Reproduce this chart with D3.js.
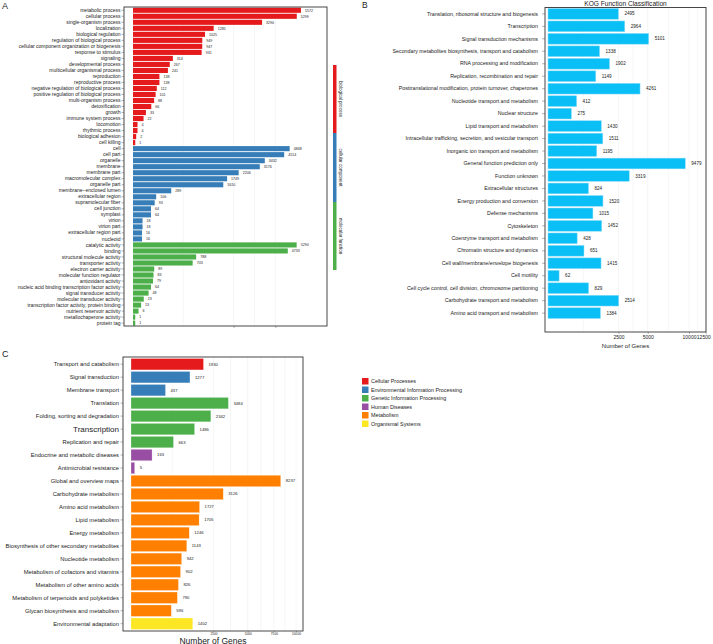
<!DOCTYPE html>
<html>
<head>
<meta charset="utf-8">
<script src="https://cdn.jsdelivr.net/npm/d3@7"></script>
<style>
  body { margin: 0; background: #fff; }
  text { font-family: "Liberation Sans", Arial, Helvetica, sans-serif; fill: #222; }
</style>
</head>
<body>
<svg id="fig" width="713" height="644"></svg>
<script>
// ---- data (GO) ----
var goTerms = ["metabolic process","cellular process","single-organism process","localization",
  "biological regulation","regulation of biological process","cellular component organization or biogenesis",
  "response to stimulus","signaling","developmental process","multicellular organismal process","reproduction",
  "reproductive process","negative regulation of biological process","positive regulation of biological process",
  "multi-organism process","detoxification","growth","immune system process","locomotion","rhythmic process",
  "biological adhesion","cell killing",
  "cell","cell part","organelle","membrane","membrane part","macromolecular complex","organelle part",
  "membrane\u2212enclosed lumen","extracellular region","supramolecular fiber","cell junction","symplast","virion",
  "virion part","extracellular region part","nucleoid",
  "catalytic activity","binding","structural molecule activity","transporter activity","electron carrier activity",
  "molecular function regulator","antioxidant activity","nucleic acid binding transcription factor activity",
  "signal transducer activity","molecular transducer activity","transcription factor activity, protein binding",
  "nutrient reservoir activity","metallochaperone activity","protein tag"];
var goValues = [5572,5299,3290,1285,1025,949,947,931,314,267,241,138,138,112,101,88,66,33,22,4,4,2,1,
  4848,4514,3432,3176,2206,1749,1610,289,106,93,64,64,18,18,16,16,
  5290,4733,788,703,89,83,79,64,48,23,13,6,1,1];
var goGroups = ["biological process","cellular component","molecular function"];
var goGroupSize = [23,16,14];
var goTicks = [2000,4000];

// ---- data (KOG) ----
var kogTerms = ["Translation, ribosomal structure and biogenesis","Transcription","Signal transduction mechanisms",
  "Secondary metabolites biosynthesis, transport and catabolism","RNA processing and modification",
  "Replication, recombination and repair","Posttranslational modification, protein turnover, chaperones",
  "Nucleotide transport and metabolism","Nuclear structure","Lipid transport and metabolism",
  "Intracellular trafficking, secretion, and vesicular transport","Inorganic ion transport and metabolism",
  "General function prediction only","Function unknown","Extracellular structures",
  "Energy production and conversion","Defense mechanisms","Cytoskeleton","Coenzyme transport and metabolism",
  "Chromatin structure and dynamics","Cell wall/membrane/envelope biogenesis","Cell motility",
  "Cell cycle control, cell division, chromosome partitioning","Carbohydrate transport and metabolism",
  "Amino acid transport and metabolism"];
var kogValues = [2495,2964,5101,1338,1902,1149,4261,412,275,1430,1511,1195,9479,3319,824,1520,1015,1452,
  428,651,1415,62,829,2514,1384];
var kogTicks = [2500,5000,10000,12500];

// ---- data (KEGG) ----
var keggTerms = ["Transport and catabolism","Signal transduction","Membrane transport","Translation",
  "Folding, sorting and degradation","Transcription","Replication and repair","Endocrine and metabolic diseases",
  "Antimicrobial resistance","Global and overview maps","Carbohydrate metabolism","Amino acid metabolism",
  "Lipid metabolism","Energy metabolism","Biosynthesis of other secondary metabolites","Nucleotide metabolism",
  "Metabolism of cofactors and vitamins","Metabolism of other amino acids","Metabolism of terpenoids and polyketides",
  "Glycan biosynthesis and metabolism","Environmental adaptation"];
var keggValues = [1930,1277,437,3484,2342,1486,663,163,5,8237,3126,1727,1705,1246,1143,942,902,826,790,596,1402];
var keggClass = [0,1,1,2,2,2,2,3,3,4,4,4,4,4,4,4,4,4,4,4,5];
var keggClasses = ["Cellular Processes","Environmental Information Processing","Genetic Information Processing",
  "Human Diseases","Metabolism","Organismal Systems"];
var keggTicks = [2500,5000,7500,10000];

var classColors = ["#e41a1c","#377eb8","#4daf4a","#984ea3","#ff7f00","#fde725"];
var kogColor = "#0abff5";
var fmt = d3.format("d");

var svg = d3.select("#fig");

function gridlines(g, x, ticks, y0, y1) {
  // major + minor (midpoint in sqrt space) lines
  var all = [0].concat(ticks);
  var minors = [];
  for (var i = 1; i < all.length; i++) {
    var m = (Math.sqrt(all[i-1]) + Math.sqrt(all[i])) / 2;
    minors.push(m * m);
  }
  g.selectAll(null).data(minors.concat(ticks)).enter().append("line")
    .attr("x1", function(d){ return x(d); }).attr("x2", function(d){ return x(d); })
    .attr("y1", y0).attr("y2", y1)
    .attr("stroke", "#ececec").attr("stroke-width", 0.5);
}

// ================= Panel A (GO) =================
(function(){
  var g = svg.append("g");
  var left = 124, right = 327, top = 7, bottom = 326;
  var x = d3.scaleSqrt().domain([0, 6000]).range([133, 133 + 2.25 * Math.sqrt(6000)]);
  var y = d3.scaleBand().domain(goTerms).range([7.7, 7.7 + 6 * goTerms.length]).paddingInner(0.15);
  var grp = [];
  goGroupSize.forEach(function(n, gi){ for (var k = 0; k < n; k++) grp.push(gi); });

  gridlines(g, x, goTicks, top, bottom);

  g.selectAll(".bar").data(goTerms).enter().append("rect")
    .attr("x", x(0)).attr("y", function(d){ return y(d); })
    .attr("width", function(d, i){ return x(goValues[i]) - x(0); })
    .attr("height", y.bandwidth())
    .attr("fill", function(d, i){ return classColors[grp[i]]; });

  g.selectAll(".val").data(goTerms).enter().append("text")
    .attr("x", function(d, i){ return x(goValues[i]) + 4; })
    .attr("y", function(d){ return y(d) + y.bandwidth() / 2; })
    .attr("dy", "0.35em").attr("font-size", 3.6)
    .text(function(d, i){ return goValues[i]; });

  var ax = g.append("g").attr("transform", "translate(" + left + ",0)")
    .call(d3.axisLeft(y).tickSize(2.5).tickPadding(1));
  ax.select(".domain").remove();
  ax.selectAll("text").attr("font-size", 5).attr("fill", "#222").style("font-family", "Liberation Sans, Arial");
  ax.selectAll("line").attr("stroke", "#444").attr("stroke-width", 0.4);

  var bx = g.append("g").attr("transform", "translate(0," + bottom + ")")
    .call(d3.axisBottom(x).tickValues(goTicks).tickSize(2).tickFormat(""));
  bx.select(".domain").remove();
  bx.selectAll("line").attr("stroke", "#444").attr("stroke-width", 0.4);

  g.append("rect").attr("x", left).attr("y", top).attr("width", right - left).attr("height", bottom - top)
    .attr("fill", "none").attr("stroke", "#333").attr("stroke-width", 0.9);

  // group strip
  var strip = [[65,133],[133,202],[202,270]];
  strip.forEach(function(s, i){
    g.append("rect").attr("x", 333).attr("y", s[0]).attr("width", 3.5).attr("height", s[1] - s[0])
      .attr("fill", classColors[i]);
    g.append("text").attr("transform", "translate(339," + ((s[0] + s[1]) / 2) + ") rotate(90)")
      .attr("text-anchor", "middle").attr("font-size", 4.5).text(goGroups[i]);
  });

  g.append("text").attr("x", 2).attr("y", 9).attr("font-size", 9).text("A");
})();

// ================= Panel B (KOG) =================
(function(){
  var g = svg.append("g");
  var left = 545, right = 706, top = 7.5, bottom = 332;
  var x = d3.scaleSqrt().domain([0, 12500]).range([548, 548 + 1.41 * Math.sqrt(12500)]);
  var y = d3.scaleBand().domain(kogTerms).range([8.5, 8.5 + 12.4 * kogTerms.length]).paddingInner(0.14);

  gridlines(g, x, kogTicks, top, bottom);

  g.selectAll(".bar").data(kogTerms).enter().append("rect")
    .attr("x", x(0)).attr("y", function(d){ return y(d); })
    .attr("width", function(d, i){ return x(kogValues[i]) - x(0); })
    .attr("height", y.bandwidth())
    .attr("fill", kogColor).attr("stroke", "#8fdcf7").attr("stroke-width", 0.5);

  g.selectAll(".val").data(kogTerms).enter().append("text")
    .attr("x", function(d, i){ return x(kogValues[i]) + 6; })
    .attr("y", function(d){ return y(d) + y.bandwidth() / 2; })
    .attr("dy", "0.35em").attr("font-size", 4.6)
    .text(function(d, i){ return kogValues[i]; });

  var ax = g.append("g").attr("transform", "translate(" + left + ",0)")
    .call(d3.axisLeft(y).tickSize(3).tickPadding(4));
  ax.select(".domain").remove();
  ax.selectAll("text").attr("font-size", 5.3).attr("fill", "#222").style("font-family", "Liberation Sans, Arial");
  ax.selectAll("line").attr("stroke", "#444").attr("stroke-width", 0.4);

  var bx = g.append("g").attr("transform", "translate(0," + bottom + ")")
    .call(d3.axisBottom(x).tickValues(kogTicks).tickSize(2).tickPadding(1).tickFormat(fmt));
  bx.select(".domain").remove();
  bx.selectAll("text").attr("font-size", 5).attr("fill", "#222").style("font-family", "Liberation Sans, Arial");
  // the last two labels sit side by side, as in the original
  bx.selectAll(".tick").filter(function(d){ return d === 12500; }).select("text")
    .attr("text-anchor", "start").attr("x", x(10000) - x(12500) + 7.3);
  bx.selectAll("line").attr("stroke", "#444").attr("stroke-width", 0.4);

  g.append("rect").attr("x", left).attr("y", top).attr("width", right - left).attr("height", bottom - top)
    .attr("fill", "none").attr("stroke", "#333").attr("stroke-width", 0.9);

  g.append("text").attr("x", (left + right) / 2).attr("y", 5.5).attr("text-anchor", "middle")
    .attr("font-size", 6.6).text("KOG Function Classification");
  g.append("text").attr("x", (left + right) / 2).attr("y", 348).attr("text-anchor", "middle")
    .attr("font-size", 6).text("Number of Genes");
  g.append("text").attr("x", 362).attr("y", 8).attr("font-size", 8.5).text("B");
})();

// ================= Panel C (KEGG) =================
(function(){
  var g = svg.append("g");
  var left = 123, right = 303, top = 357, bottom = 631;
  var x = d3.scaleSqrt().domain([0, 10000]).range([131, 131 + 1.65 * 100]);
  var y = d3.scaleBand().domain(keggTerms).range([358.5, 358.5 + 12.9 * keggTerms.length]).paddingInner(0.12);

  gridlines(g, x, keggTicks, top, bottom);

  g.selectAll(".bar").data(keggTerms).enter().append("rect")
    .attr("x", x(0)).attr("y", function(d){ return y(d); })
    .attr("width", function(d, i){ return x(keggValues[i]) - x(0); })
    .attr("height", y.bandwidth())
    .attr("fill", function(d, i){ return classColors[keggClass[i]]; })
    .attr("stroke", "#fff").attr("stroke-opacity", 0.5).attr("stroke-width", 0.5);

  g.selectAll(".val").data(keggTerms).enter().append("text")
    .attr("x", function(d, i){ return x(keggValues[i]) + 5; })
    .attr("y", function(d){ return y(d) + y.bandwidth() / 2; })
    .attr("dy", "0.35em").attr("font-size", 4.2)
    .text(function(d, i){ return keggValues[i]; });

  var ax = g.append("g").attr("transform", "translate(" + left + ",0)")
    .call(d3.axisLeft(y).tickSize(2.5).tickPadding(1.5));
  ax.select(".domain").remove();
  ax.selectAll("text").attr("font-size", function(d){ return d === "Transcription" ? 8 : 5.8; })
    .attr("fill", "#222").style("font-family", "Liberation Sans, Arial");
  ax.selectAll("line").attr("stroke", "#444").attr("stroke-width", 0.4);

  var bx = g.append("g").attr("transform", "translate(0," + bottom + ")")
    .call(d3.axisBottom(x).tickValues(keggTicks).tickSize(1.2).tickPadding(0.5).tickFormat(fmt));
  bx.select(".domain").remove();
  bx.selectAll("text").attr("font-size", 3.2).attr("fill", "#444").style("font-family", "Liberation Sans, Arial");
  bx.selectAll("line").attr("stroke", "#444").attr("stroke-width", 0.4);

  g.append("rect").attr("x", left).attr("y", top).attr("width", right - left).attr("height", bottom - top)
    .attr("fill", "none").attr("stroke", "#333").attr("stroke-width", 0.9);

  g.append("text").attr("x", (left + right) / 2).attr("y", 643.5).attr("text-anchor", "middle")
    .attr("font-size", 8.5).text("Number of Genes");

  var lg = g.append("g").attr("transform", "translate(362,378)");
  keggClasses.forEach(function(c, i){
    lg.append("rect").attr("x", 0).attr("y", i * 8.5).attr("width", 6.5).attr("height", 6.5)
      .attr("fill", classColors[i]);
    lg.append("text").attr("x", 9).attr("y", i * 8.5 + 3.25).attr("dy", "0.35em")
      .attr("font-size", 5.4).text(c);
  });

  g.append("text").attr("x", 2).attr("y", 357).attr("font-size", 9).text("C");
})();
</script>
</body>
</html>
